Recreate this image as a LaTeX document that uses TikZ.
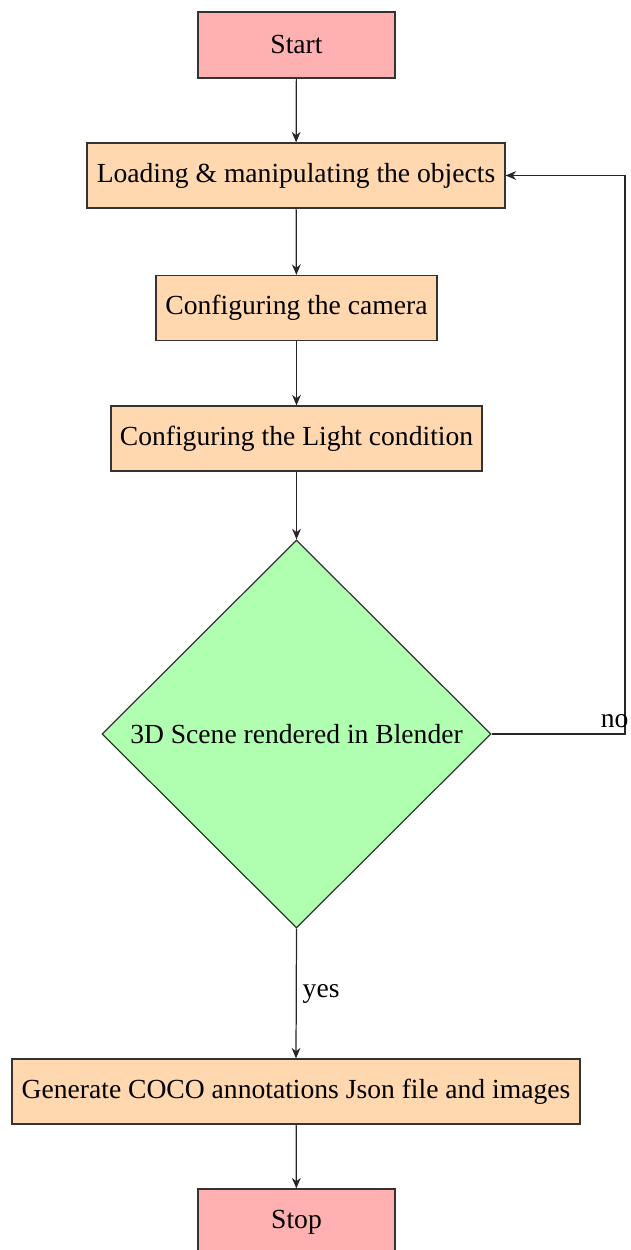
\documentclass[tikz,border=0pt]{standalone}
\usepackage{fontspec}
\setmainfont{Liberation Serif}
\usetikzlibrary{arrows.meta,shapes,positioning}

\definecolor{startpink}{RGB}{255,176,176}
\definecolor{steporange}{RGB}{255,216,176}
\definecolor{testgreen}{RGB}{176,255,176}

\begin{document}
\begin{tikzpicture}[font=\fontsize{15.7}{18}\selectfont,
	box/.style={rectangle, draw=black!80, line width=0.7pt, inner sep=0pt, minimum height=1.3cm},
	term/.style={box, fill=startpink, minimum width=3.94cm, minimum height=1.32cm},
	proc/.style={box, fill=steporange},
	test/.style={diamond, draw=black!80, line width=0.7pt, fill=testgreen, inner sep=0pt, minimum width=7.78cm, minimum height=7.76cm},
	flow/.style={-{Stealth[length=6pt,width=5pt]}, draw=black!85, line width=0.7pt}]
	\useasboundingbox (0,0) rectangle (12.6,-25);

	\node[term] (start) at (5.93,-0.90) {Start};
	\node[proc, minimum width=8.36cm] (load) at (5.92,-3.51) {Loading \& manipulating the objects};
	\node[proc, minimum width=5.62cm] (camera) at (5.93,-6.16) {Configuring the camera};
	\node[proc, minimum width=7.42cm] (light) at (5.93,-8.77) {Configuring the Light condition};
	\node[test] (render) at (5.93,-14.68) {3D Scene rendered in Blender};
	\node[proc, minimum width=11.36cm] (coco) at (5.92,-21.83) {Generate COCO annotations Json file and images};
	\node[term] (stop) at (5.93,-24.44) {Stop};

	\coordinate (back) at (12.5,-14.68);

	\draw[flow] (start) -- (load);
	\draw[flow] (load) -- (camera);
	\draw[flow] (camera) -- (light);
	\draw[flow] (light) -- (render);
	\draw[flow] (render.east) -- (back) node[anchor=south east, xshift=0.2cm] {no} |- (load.east);
	\draw[flow] (render.south) -- node[right] {yes} (coco.north);
	\draw[flow] (coco) -- (stop);
\end{tikzpicture}
\end{document}
